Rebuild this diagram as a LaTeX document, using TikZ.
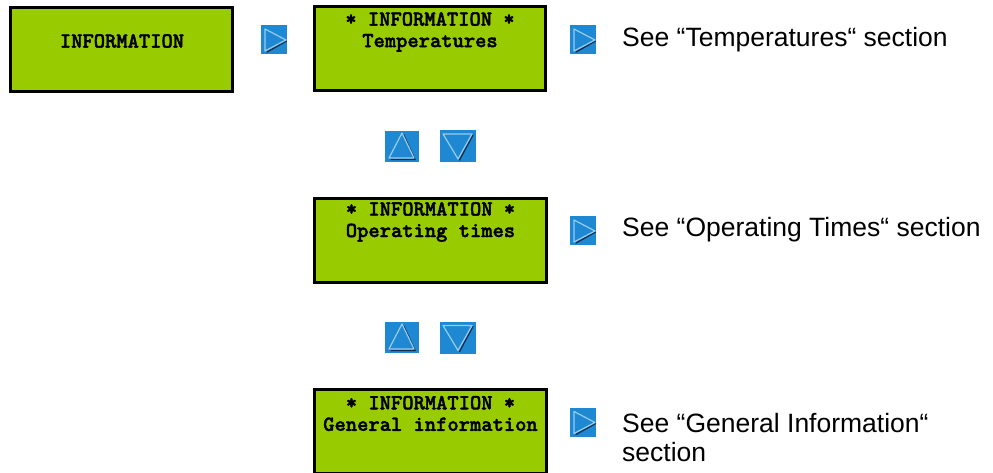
\documentclass[tikz,border=0pt]{standalone}
\usepackage{fontspec}
\setmainfont{Liberation Sans}
\newfontfamily\lcdfont{lmmonolt10-bold.otf}[FakeBold=1.8]
\definecolor{lcdgreen}{RGB}{153,204,0}
\definecolor{iconblue}{RGB}{30,136,210}
\definecolor{triedge}{RGB}{150,205,240}
\definecolor{trishade}{RGB}{20,45,75}
\begin{document}
\begin{tikzpicture}[x=1pt,y=-1pt,
  lcd/.style={draw=black, line width=3pt, fill=lcdgreen, inner sep=0pt, minimum width=232pt, minimum height=84pt},
  lcdtext/.style={font=\lcdfont\fontsize{21.5}{21.5}\selectfont, align=center, inner sep=0pt},
  icon/.style={fill=iconblue, inner sep=0pt, draw=none},
  tri/.style={draw=triedge, line width=1.2pt, line join=round},
  shade/.style={draw=trishade, line width=1.3pt, line cap=round},
  note/.style={font=\fontsize{26.5}{29}\selectfont, inner sep=0pt},
  rightkey/.pic={
    \node[icon, minimum width=26pt, minimum height=29pt] (-box) {};
    \draw[shade] (-7,12.5) -- (12.5,1.5);
    \draw[tri] (-9,-10.5) -- (-9,11.5) -- (12,0.5) -- cycle;
  },
  upkey/.pic={
    \node[icon, minimum width=34pt, minimum height=31pt] (-box) {};
    \draw[shade] (-11,13) -- (13,13) -- (1.5,-12);
    \draw[tri] (0,-13.5) -- (-13,11.5) -- (12,11.5) -- cycle;
  },
  downkey/.pic={
    \node[icon, minimum width=36pt, minimum height=32pt] (-box) {};
    \draw[shade] (15,-11) -- (1.5,14);
    \draw[tri] (-15,-12) -- (14,-12) -- (0,13) -- cycle;
  }
]
\useasboundingbox (0,0) rectangle (993,473);
\clip (0,0) rectangle (993,473);

% LCD boxes
\node[lcd, minimum width=222pt] (b1) at (121.5,49.5) {};
\node[lcdtext] (t1) at (122,41) {INFORMATION};

\node[lcd, minimum width=231pt] (b2) at (430,49) {};
\node[lcdtext] (t2) at (430,32) {* INFORMATION *\\Temperatures};

\node[lcd] (b3) at (430.5,240.5) {};
\node[lcdtext] (t3) at (430.5,222) {* INFORMATION *\\Operating times};

\node[lcd] (b4) at (430.5,431.5) {};
\node[lcdtext] (t4) at (430.5,413.5) {* INFORMATION *\\General information};

% keys
\pic (k1) at (274,39.5) {rightkey};
\pic (k2) at (583,39.5) {rightkey};
\pic (k3) at (583,230.5) {rightkey};
\pic (k4) at (583,422) {rightkey};

\pic (u1) at (402,146.5) {upkey};
\pic (d1) at (458,146) {downkey};
\pic (u2) at (402,337.5) {upkey};
\pic (d2) at (458,337.5) {downkey};

% notes
\node[note, anchor=base west] (n1) at (622,46.5) {See “Temperatures“ section};
\node[note, anchor=base west] (n2) at (622,236.5) {See “Operating Times“ section};
\node[note, anchor=north west, align=left] (n3) at (622,413) {See “General Information“\\section};
\end{tikzpicture}
\end{document}
